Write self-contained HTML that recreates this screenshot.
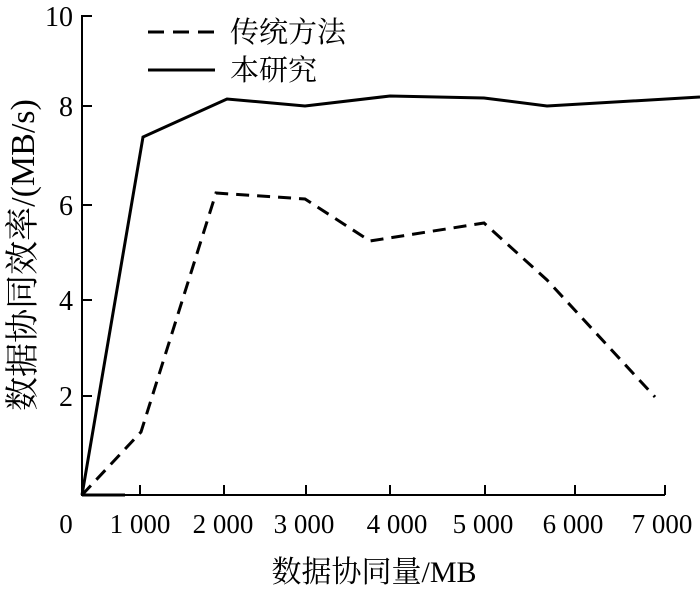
<!DOCTYPE html>
<html><head><meta charset="utf-8"><style>
html,body{margin:0;padding:0;background:#fff;}
svg text{font-family:"Liberation Serif","Noto Serif CJK SC",serif;fill:#000;}
</style></head><body>
<svg width="700" height="590" viewBox="0 0 700 590" xmlns="http://www.w3.org/2000/svg">
<g stroke="#000" stroke-width="2" fill="none">
<line x1="82" y1="15" x2="82" y2="496"/>
<line x1="81" y1="495" x2="665" y2="495"/>
<line x1="82" y1="495" x2="125" y2="495" stroke-width="3"/>
<line x1="82" y1="16" x2="92" y2="16"/>
<line x1="82" y1="106" x2="92" y2="106"/>
<line x1="82" y1="205" x2="92" y2="205"/>
<line x1="82" y1="300" x2="92" y2="300"/>
<line x1="82" y1="396" x2="92" y2="396"/>
<line x1="140" y1="495" x2="140" y2="485"/>
<line x1="224" y1="495" x2="224" y2="485"/>
<line x1="306" y1="495" x2="306" y2="485"/>
<line x1="390" y1="495" x2="390" y2="485"/>
<line x1="485" y1="495" x2="485" y2="485"/>
<line x1="575" y1="495" x2="575" y2="485"/>
<line x1="665" y1="495" x2="665" y2="485"/>
<polyline stroke-width="3" points="82,495 143,137 227,99 305,106 390,96 484,98 547,106 700,97"/>
<polyline stroke-width="3" stroke-dasharray="13,8" points="82,495 141,432 216,193 305,199 370,241 484,223 547,280 655,397"/>
<line x1="148" y1="32" x2="215" y2="32" stroke-width="3" stroke-dasharray="16,9"/>
<line x1="148" y1="70" x2="215" y2="70" stroke-width="3"/>
</g>
<g font-size="28" text-anchor="end">
<text x="73" y="26">10</text>
<text x="73" y="116">8</text>
<text x="73" y="215">6</text>
<text x="73" y="310">4</text>
<text x="73" y="406">2</text>
</g>
<g font-size="27" text-anchor="middle">
<text x="66" y="533">0</text>
<text x="140" y="533">1 000</text>
<text x="223" y="533">2 000</text>
<text x="304" y="533">3 000</text>
<text x="397" y="533">4 000</text>
<text x="483" y="533">5 000</text>
<text x="573" y="533">6 000</text>
<text x="662" y="533">7 000</text>
</g>
<text x="374" y="582" font-size="30" text-anchor="middle">数据协同量/MB</text>
<text transform="translate(34,255) rotate(-90)" font-size="34" text-anchor="middle">数据协同效率/(MB/s)</text>
<text x="230" y="42" font-size="29">传统方法</text>
<text x="230" y="80" font-size="29">本研究</text>
</svg>
</body></html>
